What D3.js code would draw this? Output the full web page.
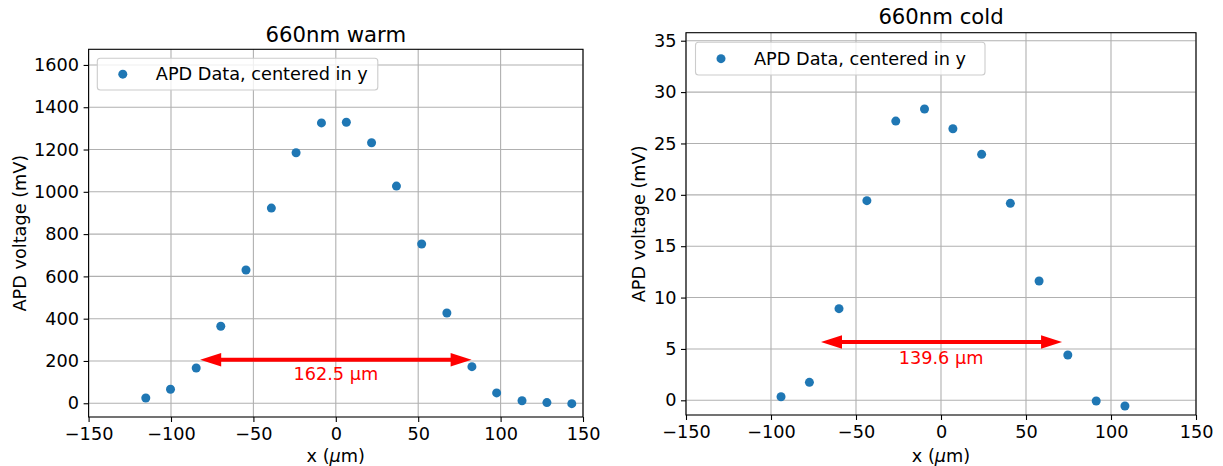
<!DOCTYPE html>
<html>
<head>
<meta charset="utf-8">
<script src="https://cdn.jsdelivr.net/npm/d3@7"></script>
<style>
  html, body { margin: 0; padding: 0; background: #fff; }
  svg { display: block; font-family: "DejaVu Sans", sans-serif; }
</style>
</head>
<body>
<svg id="chart" width="1223" height="466"></svg>
<script>
// ---------- data ----------
const xTicks = [-150, -100, -50, 0, 50, 100, 150];

const warmTitle = "660nm warm";
const warmX = [-115.3, -100.3, -84.7, -69.8, -54.5, -39.1, -24.1, -8.7, 6.4, 21.7, 36.8, 52.1, 67.4, 82.6, 97.6, 113.0, 128.1, 143.2];
const warmY = [25, 66, 167, 364, 630, 923, 1185, 1326, 1329, 1232, 1027, 753, 427, 173, 49, 12, 3, -2];
const warmYTicks = [0, 200, 400, 600, 800, 1000, 1200, 1400, 1600];
const warmYDomain = [-65, 1674];
const warmArrowX = [-82.3, 82.4];
const warmArrowY = 206;
const warmLabel = "162.5 µm";
const warmLabelPos = [0, 112];

const coldTitle = "660nm cold";
const coldX = [-94.1, -77.4, -60.0, -43.6, -26.6, -9.7, 7.0, 23.9, 40.8, 57.7, 74.6, 91.3, 108.2];
const coldY = [0.35, 1.75, 8.92, 19.43, 27.18, 28.35, 26.43, 23.94, 19.17, 11.61, 4.41, -0.07, -0.55];
const coldYTicks = [0, 5, 10, 15, 20, 25, 30, 35];
const coldYDomain = [-1.43, 35.78];
const coldArrowX = [-70.6, 71.2];
const coldArrowY = 5.67;
const coldLabel = "139.6 µm";
const coldLabelPos = [0, 3.53];

const legendText = "APD Data, centered in y";
const yLabel = "APD voltage (mV)";

// ---------- styles ----------
const BLUE = "#1f77b4";
const GRID = "#b0b0b0";
const FS = 17.7;
const TFS = 21.2;

const svg = d3.select("#chart");

function fmt(d) { return d < 0 ? "\u2212" + Math.abs(d) : String(d); }

function panel(cfg) {
  const { left, right, top, bottom } = cfg.box;
  const x = d3.scaleLinear().domain([-150, 150]).range([left, right]);
  const y = d3.scaleLinear().domain(cfg.yDomain).range([bottom, top]);
  const g = svg.append("g");

  // grid
  g.append("g").selectAll("line.vx").data(xTicks).join("line")
    .attr("x1", d => x(d)).attr("x2", d => x(d))
    .attr("y1", top).attr("y2", bottom)
    .attr("stroke", GRID).attr("stroke-width", 1.1);
  g.append("g").selectAll("line.hy").data(cfg.yTicks).join("line")
    .attr("x1", left).attr("x2", right)
    .attr("y1", d => y(d)).attr("y2", d => y(d))
    .attr("stroke", GRID).attr("stroke-width", 1.1);

  // points
  const pts = cfg.xs.map((v, i) => [v, cfg.ys[i]]);
  g.append("g").selectAll("circle").data(pts).join("circle")
    .attr("cx", d => x(d[0])).attr("cy", d => y(d[1]))
    .attr("r", 4.5).attr("fill", BLUE);

  // arrow
  const ay = y(cfg.arrowY);
  const x0 = x(cfg.arrowX[0]), x1 = x(cfg.arrowX[1]);
  const hl = 21, hh = 6.8;
  g.append("line")
    .attr("x1", x0 + hl - 1).attr("x2", x1 - hl + 1)
    .attr("y1", ay).attr("y2", ay)
    .attr("stroke", "red").attr("stroke-width", 4);
  g.append("path")
    .attr("d", `M${x0},${ay} L${x0 + hl},${ay - hh} L${x0 + hl},${ay + hh} Z`)
    .attr("fill", "red");
  g.append("path")
    .attr("d", `M${x1},${ay} L${x1 - hl},${ay - hh} L${x1 - hl},${ay + hh} Z`)
    .attr("fill", "red");
  g.append("text")
    .attr("x", x(cfg.labelPos[0])).attr("y", y(cfg.labelPos[1]))
    .attr("text-anchor", "middle").attr("font-size", FS).attr("fill", "red")
    .text(cfg.label);

  // axes
  const xa = g.append("g").attr("transform", `translate(0,${bottom})`)
    .call(d3.axisBottom(x).tickValues(xTicks).tickFormat(fmt).tickSizeOuter(0).tickSize(5).tickPadding(4.5));
  const ya = g.append("g").attr("transform", `translate(${left},0)`)
    .call(d3.axisLeft(y).tickValues(cfg.yTicks).tickFormat(fmt).tickSizeOuter(0).tickSize(5).tickPadding(4.5));
  [xa, ya].forEach(a => {
    a.select(".domain").remove();
    a.selectAll(".tick line").attr("stroke", "#000").attr("stroke-width", 1.1);
    a.selectAll(".tick text").attr("font-size", FS).attr("fill", "#000")
      .attr("font-family", "DejaVu Sans");
  });
  xa.selectAll(".tick text").attr("dy", "0.76em");

  // spines
  g.append("rect").attr("x", left).attr("y", top)
    .attr("width", right - left).attr("height", bottom - top)
    .attr("fill", "none").attr("stroke", "#000").attr("stroke-width", 1.1);

  // title
  g.append("text").attr("x", (left + right) / 2).attr("y", cfg.titleY)
    .attr("text-anchor", "middle").attr("font-size", TFS).text(cfg.title);

  // x label
  const xl = g.append("text").attr("x", (left + right) / 2).attr("y", 461.5)
    .attr("text-anchor", "middle").attr("font-size", FS);
  xl.append("tspan").text("x (");
  xl.append("tspan").attr("font-style", "italic").text("\u03bc");
  xl.append("tspan").text("m)");

  // y label
  g.append("text")
    .attr("transform", `translate(${cfg.yLabelX},${(top + bottom) / 2}) rotate(-90)`)
    .attr("text-anchor", "middle").attr("font-size", FS).text(yLabel);

  // legend
  const L = cfg.legend;
  g.append("rect").attr("x", L.x).attr("y", L.y).attr("width", L.w).attr("height", L.h)
    .attr("rx", 3).attr("ry", 3)
    .attr("fill", "#fff").attr("fill-opacity", 0.8)
    .attr("stroke", "#cccccc").attr("stroke-width", 1.1);
  g.append("circle").attr("cx", L.x + 25.5).attr("cy", L.y + L.h / 2)
    .attr("r", 4.5).attr("fill", BLUE);
  g.append("text").attr("x", L.x + 58.5).attr("y", L.y + L.h / 2)
    .attr("dy", "0.35em").attr("font-size", FS).text(legendText);
}

panel({
  box: { left: 88.6, right: 583, top: 49.3, bottom: 417 },
  yDomain: warmYDomain, yTicks: warmYTicks,
  xs: warmX, ys: warmY,
  arrowX: warmArrowX, arrowY: warmArrowY,
  label: warmLabel, labelPos: warmLabelPos,
  title: warmTitle, titleY: 41.7,
  yLabelX: 25.5,
  legend: { x: 97.3, y: 58.3, w: 280.5, h: 31.7 }
});

panel({
  box: { left: 686, right: 1196, top: 32.7, bottom: 415 },
  yDomain: coldYDomain, yTicks: coldYTicks,
  xs: coldX, ys: coldY,
  arrowX: coldArrowX, arrowY: coldArrowY,
  label: coldLabel, labelPos: coldLabelPos,
  title: coldTitle, titleY: 24,
  yLabelX: 645,
  legend: { x: 695.5, y: 42.3, w: 289.5, h: 32.7 }
});
</script>
</body>
</html>
